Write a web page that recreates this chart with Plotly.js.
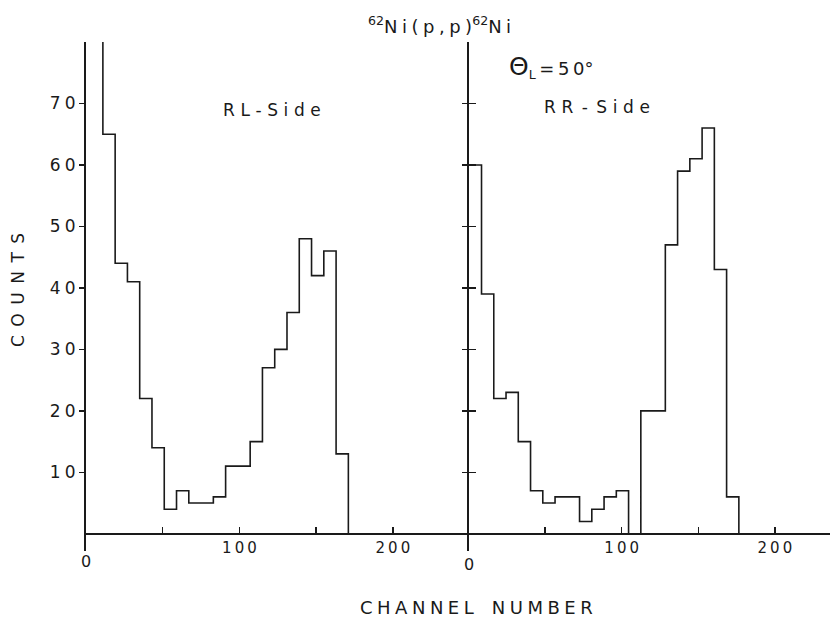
<!DOCTYPE html>
<html>
<head>
<meta charset="utf-8">
<script src="https://cdn.plot.ly/plotly-3.0.1.min.js"></script>
<style>html,body{margin:0;padding:0;background:#fff;}#chart{width:830px;height:619px;}</style>
</head>
<body>
<div id="chart"></div>
<script>
// ---- data ----
// RL-Side: bin edges (channel) and counts per bin (first bin is off scale)
const rlEdges  = [3, 11, 19, 27, 35, 43, 51, 59, 67, 75, 83, 91, 99, 107, 115, 123, 131, 139, 147, 155, 163, 171];
const rlCounts = [120, 65, 44, 41, 22, 14, 4, 7, 5, 5, 6, 11, 11, 15, 27, 30, 36, 48, 42, 46, 13];
// RR-Side
const rrEdges  = [0.5, 8.5, 16.5, 24.5, 32.5, 40.5, 48.5, 56.5, 64.5, 72.5, 80.5, 88.5, 96.5, 104.5, 112.5, 120.5, 128.5, 136.5, 144.5, 152.5, 160.5, 168.5, 176.5];
const rrCounts = [60, 39, 22, 23, 15, 7, 5, 6, 6, 2, 4, 6, 7, 0, 20, 20, 47, 59, 61, 66, 43, 6];
// ticks
const yTickVals = [10, 20, 30, 40, 50, 60, 70];
const yTickLabels = ['10', '20', '30', '40', '50', '60', '70'];
const xTickVals = [100, 200];
const xTickLabels = ['100', '200'];
const xMinorTickVals = [50, 150];
const xZeroLabel = '0';

// ---- helpers ----
const sp = (s, g) => s.split('').join(g || '\u2009');
function stepTrace(edges, counts, xa, ya) {
  return {
    x: edges,
    y: counts.concat([0]),
    xaxis: xa, yaxis: ya,
    type: 'scatter', mode: 'lines',
    line: {shape: 'hv', color: '#1a1a1a', width: 1.6},
    hoverinfo: 'skip', showlegend: false
  };
}
const W = 830, H = 619, ML = 86, MR = 0, MT = 42, MB = 68;
const PW = W - ML - MR, PH = H - MT - MB;
const yMin = -2.8, yMax = 80;
const px = v => (v - ML) / PW;
const py = v => (H - MB - v) / PH;
const split = px(468.5);
const basePos = (0 - yMin) / (yMax - yMin);

const font = 'DejaVu Sans, Liberation Sans, sans-serif';
const ink = '#1a1a1a';

const traces = [
  stepTrace(rlEdges, rlCounts, 'x', 'y'),
  stepTrace(rrEdges, rrCounts, 'x2', 'y2'),
  {x: [0], y: [0], xaxis: 'x2', yaxis: 'y3', type: 'scatter', mode: 'markers',
   marker: {opacity: 0}, hoverinfo: 'skip', showlegend: false}
];

const baseX = {
  showline: true, linecolor: ink, linewidth: 2,
  ticks: 'inside', ticklen: 6, tickwidth: 1.5, tickcolor: ink,
  tickmode: 'array', tickvals: xTickVals, ticktext: xTickLabels.map(s => sp(s)),
  minor: {tickmode: 'array', tickvals: xMinorTickVals, ticks: 'inside', ticklen: 6, tickwidth: 1.5, tickcolor: ink, showgrid: false},
  tickfont: {family: font, size: 15, color: ink},
  showgrid: false, zeroline: false, fixedrange: true,
  anchor: 'free', position: basePos
};
const baseY = {
  domain: [0, 1], range: [yMin, yMax],
  showline: true, linecolor: ink, linewidth: 2,
  tickwidth: 1.5, tickcolor: ink,
  tickmode: 'array', tickvals: yTickVals,
  showgrid: false, zeroline: false, fixedrange: true
};

const layout = {
  width: W, height: H,
  margin: {l: ML, r: MR, t: MT, b: MB},
  paper_bgcolor: '#fff', plot_bgcolor: '#fff',
  showlegend: false,
  xaxis: Object.assign({}, baseX, {domain: [0, split], range: [0, 249.3]}),
  xaxis2: Object.assign({}, baseX, {domain: [split, 1], range: [0, 236]}),
  yaxis: Object.assign({}, baseY, {
    anchor: 'x', ticks: 'outside', ticklen: 5,
    ticktext: yTickLabels.map(s => sp(s, '\u2005')),
    tickfont: {family: font, size: 17, color: ink}
  }),
  yaxis2: Object.assign({}, baseY, {anchor: 'x2', ticks: 'outside', ticklen: 5, showticklabels: false}),
  yaxis3: Object.assign({}, baseY, {overlaying: 'y2', anchor: 'x2', showline: false,
    ticks: 'inside', ticklen: 7, showticklabels: false}),
  annotations: [
    {xref: 'x', yref: 'paper', x: 0, y: py(561), xanchor: 'center', yanchor: 'middle',
     text: xZeroLabel, showarrow: false, font: {family: font, size: 16, color: ink}},
    {xref: 'x2', yref: 'paper', x: 0, y: py(564), xanchor: 'center', yanchor: 'middle',
     text: xZeroLabel, showarrow: false, font: {family: font, size: 16, color: ink}},
    {xref: 'paper', yref: 'paper', x: px(439), y: py(25), xanchor: 'center', yanchor: 'middle',
     text: '<sup>62</sup>' + sp('Ni(p,p)', '\u2005') + '<sup>62</sup>' + sp('Ni', '\u2005'), showarrow: false,
     font: {family: font, size: 18, color: ink}},
    {xref: 'paper', yref: 'paper', x: px(272), y: py(110), xanchor: 'center', yanchor: 'middle',
     text: sp('RL-Side', '\u2004'), showarrow: false, font: {family: font, size: 17, color: ink}},
    {xref: 'paper', yref: 'paper', x: px(597), y: py(107), xanchor: 'center', yanchor: 'middle',
     text: sp('RR', '\u2004') + '\u2002-\u2002' + sp('Side', '\u2004'), showarrow: false,
     font: {family: font, size: 17, color: ink}},
    {xref: 'paper', yref: 'paper', x: px(551), y: py(67), xanchor: 'center', yanchor: 'middle',
     text: '<span style="font-size:25px">Θ</span><sub>L</sub>\u2009=\u2009' + sp('50', '\u2009') + '°', showarrow: false,
     font: {family: font, size: 18, color: ink}},
    {xref: 'paper', yref: 'paper', x: px(18), y: py(290), xanchor: 'center', yanchor: 'middle',
     text: sp('COUNTS', '\u2002'), textangle: -90, showarrow: false,
     font: {family: font, size: 17, color: ink}},
    {xref: 'paper', yref: 'paper', x: px(476), y: py(607), xanchor: 'center', yanchor: 'middle',
     text: sp('CHANNEL', '\u2005') + '\u2003' + sp('NUMBER', '\u2005'), showarrow: false,
     font: {family: font, size: 18, color: ink}}
  ]
};

Plotly.newPlot('chart', traces, layout, {displayModeBar: false, staticPlot: true});
</script>
</body>
</html>
